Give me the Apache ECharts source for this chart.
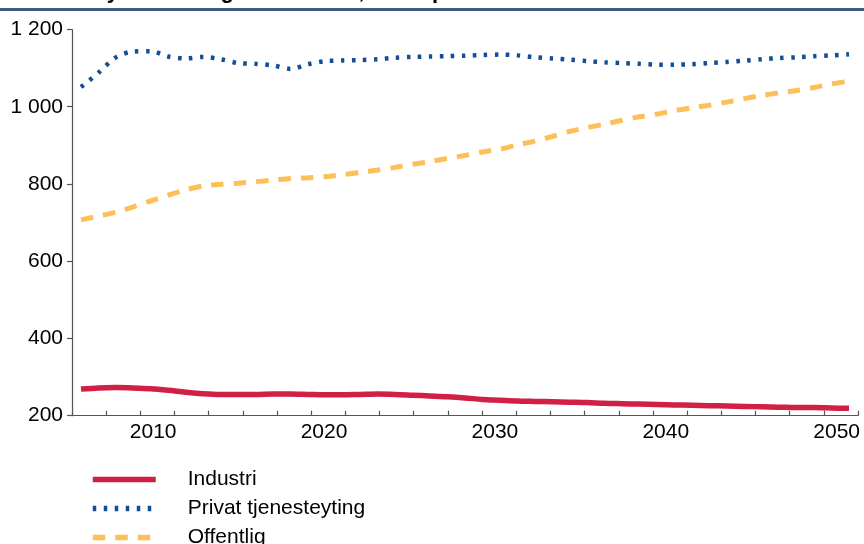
<!DOCTYPE html>
<html>
<head>
<meta charset="utf-8">
<script src="https://cdn.jsdelivr.net/npm/echarts@6/dist/echarts.min.js"></script>
<style>
html,body{margin:0;padding:0;background:#fff;}
#chart{width:864px;height:544px;}
</style>
</head>
<body>
<div id="chart"></div>
<script>
const years = [2006,2007,2008,2009,2010,2011,2012,2013,2014,2015,2016,2017,2018,2019,2020,2021,2022,2023,2024,2025,2026,2027,2028,2029,2030,2031,2032,2033,2034,2035,2036,2037,2038,2039,2040,2041,2042,2043,2044,2045,2046,2047,2048,2049,2050];
const industri = [269,272,273,272,270,266,261,257,255,255,255,256,256,255,254,254,255,256,255,253,251,249,246,242,240,238,237,236,235,234,232,231,230,229,228,227,226,225,224,223,222,221,221,220,219];
const privat = [1051,1088,1128,1143,1144,1130,1125,1129,1123,1113,1111,1107,1098,1110,1118,1120,1121,1123,1127,1129,1130,1131,1132,1134,1135,1133,1128,1125,1122,1118,1115,1113,1111,1109,1109,1110,1113,1116,1119,1123,1126,1128,1131,1133,1136];
const offentlig = [707,717,727,741,756,771,785,795,799,802,806,810,814,816,819,824,830,836,843,851,858,866,874,883,890,901,911,923,936,946,955,965,974,981,990,997,1004,1012,1021,1029,1036,1042,1050,1059,1066];
const seriesNames = ['Industri','Privat tjenesteyting','Offentlig'];
const xLabelYears = [2010,2020,2030,2040,2050];
const xTickYears = [2005.25,2007.25,2009.25,2011.25,2013.25,2015.25,2017.25,2019.25,2021.25,2023.25,2025.25,2027.25,2029.25,2031.25,2033.25,2035.25,2037.25,2039.25,2041.25,2043.25,2045.25,2047.25,2049.25,2051.25];
const yTicks = [200,400,600,800,1000,1200];
const titleText = 'Sysselsetting etter sektor, 1 000 personer';

const FONT = '"Liberation Sans", Arial, sans-serif';
const pair = (xs, ys) => xs.map((x, i) => [x, ys[i]]);
const fmtThousands = v => String(v).replace(/\B(?=(\d{3})+(?!\d))/g, ' ');

const chart = echarts.init(document.getElementById('chart'), null, {renderer: 'canvas'});
chart.setOption({
  animation: false,
  backgroundColor: '#ffffff',
  textStyle: {fontFamily: FONT},
  graphic: [
    {type: 'text', x: 92, y: 3, style: {text: titleText, font: 'bold 22px ' + FONT, fill: '#000', align: 'left', verticalAlign: 'bottom'}},
    {type: 'rect', shape: {x: 0, y: 8, width: 864, height: 3}, style: {fill: '#3d5a85'}}
  ],
  grid: {left: 72, right: 6, top: 29.5, bottom: 128.3, containLabel: false},
  legend: {
    orient: 'vertical', left: 90, top: 469, height: 120, width: 400, padding: 0,
    itemWidth: 63, itemHeight: 20, itemGap: 8,
    data: seriesNames,
    itemStyle: {opacity: 0},
    lineStyle: {width: 5.5},
    textStyle: {fontFamily: FONT, fontSize: 21, color: '#000', lineHeight: 20, padding: [0, 0, 0, 27]}
  },
  xAxis: [
    {
      type: 'value', min: xTickYears[0], max: xTickYears[xTickYears.length - 1],
      axisLine: {show: true, lineStyle: {color: '#555', width: 1.2}},
      axisTick: {show: true, inside: true, length: 5, customValues: xTickYears, lineStyle: {color: '#555', width: 1.2}},
      axisLabel: {customValues: xLabelYears, formatter: v => String(v), fontFamily: FONT, fontSize: 21, color: '#000', margin: 6},
      splitLine: {show: false}
    },
    {
      type: 'value', min: 2005.484, max: 2050.516, show: false,
      splitLine: {show: false}
    }
  ],
  yAxis: {
    type: 'value', min: yTicks[0], max: yTicks[yTicks.length - 1], interval: 200,
    axisLine: {show: true, lineStyle: {color: '#555', width: 1.2}},
    axisTick: {show: true, inside: false, length: 5, lineStyle: {color: '#555', width: 1.2}},
    axisLabel: {formatter: fmtThousands, fontFamily: FONT, fontSize: 21, color: '#000', margin: 9},
    splitLine: {show: false}
  },
  series: [
    {
      name: seriesNames[0], type: 'line', xAxisIndex: 1, data: pair(years, industri),
      symbol: 'none', smooth: 0.3, color: '#d11f45',
      lineStyle: {width: 5.5, color: '#d11f45', type: 'solid'}
    },
    {
      name: seriesNames[1], type: 'line', xAxisIndex: 1, data: pair(years, privat),
      symbol: 'none', smooth: 0.3, color: '#134d97',
      lineStyle: {width: 4.5, color: '#134d97', type: [3.5, 7.5], cap: 'butt'}
    },
    {
      name: seriesNames[2], type: 'line', xAxisIndex: 1, data: pair(years, offentlig),
      symbol: 'none', smooth: 0.3, color: '#fdbf58',
      lineStyle: {width: 5, color: '#fdbf58', type: [12.5, 10], cap: 'butt'}
    }
  ]
});
</script>
</body>
</html>
